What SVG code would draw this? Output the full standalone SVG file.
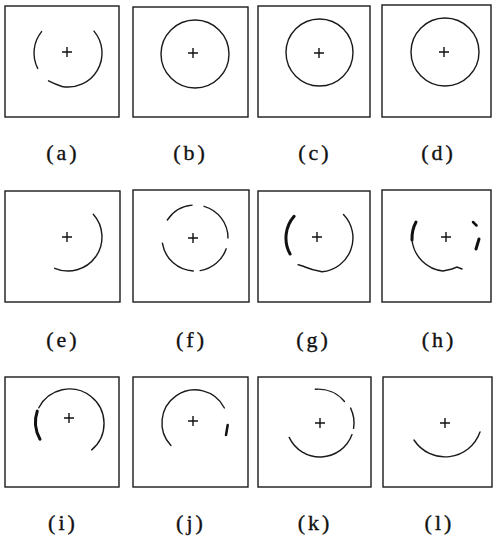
<svg xmlns="http://www.w3.org/2000/svg" width="494" height="536" viewBox="0 0 494 536">
<style>
.box{fill:none;stroke:#1a1a1a;stroke-width:1.4}
.arc{fill:none;stroke:#1a1a1a;stroke-width:1.4;stroke-linecap:round}
.thick{fill:none;stroke:#111;stroke-width:3;stroke-linecap:round}
.plus{fill:none;stroke:#111;stroke-width:1.4}
.lbl{font-family:"Liberation Serif","Times New Roman",serif;font-size:22px;fill:#111;stroke:#111;stroke-width:0.35;text-anchor:middle;letter-spacing:3px}
</style>
<rect width="494" height="536" fill="#fff"/>

<g id="panel-a">
<rect class="box" x="5" y="6" width="114" height="111"/>
<path class="plus" d="M62,52H72M67,47V57"/>
<path class="arc" d="M41.6,31.6A34,34 0 0 0 37.7,68.4"/>
<path class="arc" d="M94,31.1A34,34 0 0 1 62,86.5Q55,84 48.5,80.8"/>
<text class="lbl" x="63" y="160">(a)</text>
</g>

<g id="panel-b">
<rect class="box" x="133" y="7" width="115" height="110"/>
<path class="plus" d="M188,53H198M193,48V58"/>
<circle class="arc" cx="195" cy="54" r="34"/>
<text class="lbl" x="190.5" y="160">(b)</text>
</g>

<g id="panel-c">
<rect class="box" x="258" y="6" width="112" height="111"/>
<path class="plus" d="M314,53H324M319,48V58"/>
<circle class="arc" cx="319.5" cy="52.5" r="33.5"/>
<text class="lbl" x="315" y="160">(c)</text>
</g>

<g id="panel-d">
<rect class="box" x="382" y="5" width="109" height="112"/>
<path class="plus" d="M439,52H449M444,47V57"/>
<circle class="arc" cx="445" cy="52" r="34"/>
<text class="lbl" x="438.5" y="160">(d)</text>
</g>

<g id="panel-e">
<rect class="box" x="5" y="191" width="115" height="111"/>
<path class="plus" d="M62,237H72M67,232V242"/>
<path class="arc" d="M93.3,214.3A34,34 0 0 1 54.7,268.3"/>
<text class="lbl" x="63" y="347">(e)</text>
</g>

<g id="panel-f">
<rect class="box" x="133" y="190" width="116" height="112"/>
<path class="plus" d="M188,238H198M193,233V243"/>
<path class="arc" d="M167.3,220A33,33 0 0 1 192.1,205.1"/>
<path class="arc" d="M204.1,206.3A33,33 0 0 1 228,238"/>
<path class="arc" d="M226.2,248.8A33,33 0 0 1 200.2,270.6"/>
<path class="arc" d="M193.3,271A33,33 0 0 1 162.4,243.2"/>
<text class="lbl" x="191.5" y="347">(f)</text>
</g>

<g id="panel-g">
<rect class="box" x="258" y="191" width="112" height="111"/>
<path class="plus" d="M312,237H322M317,232V242"/>
<path class="thick" d="M294.1,216.3A33,33 0 0 0 290.1,254"/>
<path class="arc" d="M343.5,214.4A34,34 0 0 1 322,271.8Q312,270 305,267Q300,265 298.1,264.8"/>
<text class="lbl" x="313.5" y="347">(g)</text>
</g>

<g id="panel-h">
<rect class="box" x="382" y="190" width="109" height="112"/>
<path class="plus" d="M441,237H451M446,232V242"/>
<path class="thick" d="M416,222A35,35 0 0 0 412,240"/>
<path class="arc" d="M412,240A35,35 0 0 0 443,271L452,269L457,267L462,269"/>
<path class="thick" d="M473,222L476.5,225.5" style="stroke-width:2.5"/>
<path class="thick" d="M479,239L476,249"/>
<text class="lbl" x="439" y="347">(h)</text>
</g>

<g id="panel-i">
<rect class="box" x="5" y="377" width="114" height="110"/>
<path class="plus" d="M64,418H74M69,413V423"/>
<path class="arc" d="M38.8,407.8A34.5,34.5 0 1 1 91.7,449.9"/>
<path class="thick" d="M37.3,411.1A34.5,34.5 0 0 0 40,439.2"/>
<text class="lbl" x="63" y="530">(i)</text>
</g>

<g id="panel-j">
<rect class="box" x="133" y="377" width="115" height="110"/>
<path class="plus" d="M188,421H198M193,416V426"/>
<path class="arc" d="M170.9,445.5A33,33 0 1 1 224.4,408"/>
<path class="thick" d="M227.7,425L226,435" style="stroke-width:2.5"/>
<text class="lbl" x="191" y="530">(j)</text>
</g>

<g id="panel-k">
<rect class="box" x="258" y="377" width="113" height="110"/>
<path class="plus" d="M315,423H325M320,418V428"/>
<path class="arc" d="M315.3,389.3A34,34 0 0 1 344.5,401.5"/>
<path class="arc" d="M350.6,408.1A34,34 0 0 1 353.6,428.3"/>
<path class="arc" d="M352,434.6A34,34 0 0 1 289.2,437.4"/>
<text class="lbl" x="315" y="530">(k)</text>
</g>

<g id="panel-l">
<rect class="box" x="383" y="377" width="109" height="110"/>
<path class="plus" d="M440,423H450M445,418V428"/>
<path class="arc" d="M414,440A37,37 0 0 0 480,432"/>
<text class="lbl" x="439.5" y="530">(l)</text>
</g>
</svg>
